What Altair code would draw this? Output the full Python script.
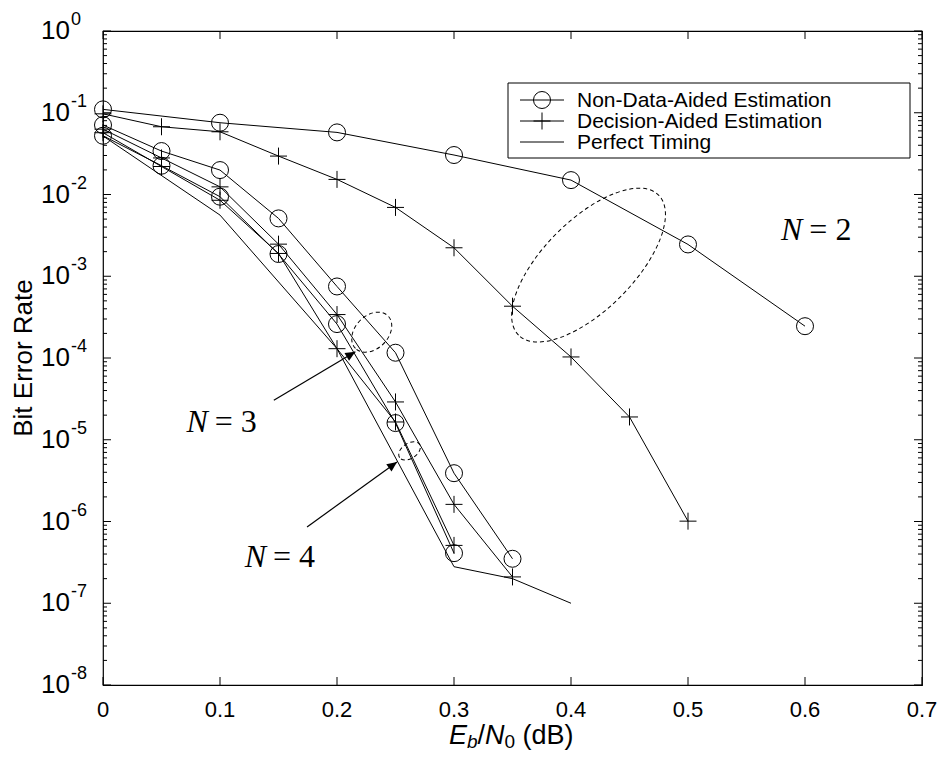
import altair as alt
import pandas as pd

W, H = 819, 654

# ---------------- data ----------------
snr_n2_nda = [0, 0.1, 0.2, 0.3, 0.4, 0.5, 0.6]
ber_n2_nda = [0.110, 0.0755, 0.0575, 0.0304, 0.0150, 0.00245, 2.45e-4]

snr_n2_da = [0, 0.05, 0.1, 0.15, 0.2, 0.25, 0.3, 0.35, 0.4, 0.45, 0.5]
ber_n2_da = [0.097, 0.0674, 0.0585, 0.0295, 0.0153, 0.00695, 0.00223, 4.3e-4, 1.03e-4, 1.9e-5, 1.01e-6]

snr_n3 = [0, 0.05, 0.1, 0.15, 0.2, 0.25, 0.3, 0.35]
ber_n3_nda = [0.0707, 0.034, 0.0199, 0.0051, 7.5e-4, 1.16e-4, 3.9e-6, 3.5e-7]
ber_n3_da = [0.063, 0.028, 0.0124, 0.00247, 3.4e-4, 2.9e-5, 1.62e-6, 2.1e-7]

snr_n4 = [0, 0.05, 0.1, 0.15, 0.2, 0.25, 0.3]
ber_n4_nda = [0.0523, 0.0225, 0.0094, 0.00187, 2.6e-4, 1.6e-5, 4.1e-7]
ber_n4_da = [0.057, 0.022, 0.0085, 0.0019, 1.3e-4, 1.65e-5, 5.1e-7]

snr_pt = [0, 0.1, 0.2, 0.3, 0.35, 0.4]
ber_pt = [0.052, 0.0056, 1.3e-4, 2.8e-7, 2.0e-7, 1.0e-7]

legend_labels = ["Non-Data-Aided Estimation", "Decision-Aided Estimation", "Perfect Timing"]

x_ticks = [0, 0.1, 0.2, 0.3, 0.4, 0.5, 0.6, 0.7]
x_tick_labels = ["0", "0.1", "0.2", "0.3", "0.4", "0.5", "0.6", "0.7"]
y_exponents = [0, -1, -2, -3, -4, -5, -6, -7, -8]

# annotations: group ellipses (centre), arrows, N labels
ell_x = [0.415, 0.2297, 0.262]
ell_y = [1.37e-3, 2.07e-4, 7.3e-6]
arrow_x0 = [0.146, 0.1744]
arrow_y0 = [3.04e-5, 8.57e-7]
arrow_x1 = [0.2157, 0.2513]
arrow_y1 = [1.19e-4, 5.35e-6]
n_labels = ["2", "3", "4"]
n_label_x = [0.6037, 0.0955, 0.1453]
n_label_y = [3.66e-3, 1.65e-5, 3.67e-7]

# ---------------- tables ----------------
rows = []
def add(series, kind, xs, ys):
    for a, b in zip(xs, ys):
        rows.append({"snr": a, "ber": b, "series": series, "kind": kind})

add("n2_nda", "nda", snr_n2_nda, ber_n2_nda)
add("n2_da", "da", snr_n2_da, ber_n2_da)
add("n3_nda", "nda", snr_n3, ber_n3_nda)
add("n3_da", "da", snr_n3, ber_n3_da)
add("n4_nda", "nda", snr_n4, ber_n4_nda)
add("n4_da", "da", snr_n4, ber_n4_da)
add("pt", "pt", snr_pt, ber_pt)
df = pd.DataFrame(rows)

xs = alt.Scale(domain=[0, 0.7], nice=False, zero=False)
ys = alt.Scale(type="log", domain=[1e-8, 1], nice=False)

X = lambda f: alt.X(f, type="quantitative", scale=xs, axis=None)
Y = lambda f: alt.Y(f, type="quantitative", scale=ys, axis=None)

PLUS = "M-1,0L1,0M0,-1L0,1"
SANS = "Liberation Sans"
SERIF = "Liberation Serif"
one = pd.DataFrame({"a": [0]})

layers = []

# curves
layers.append(alt.Chart(df).mark_line(color="black", strokeWidth=1).encode(
    x=X("snr"), y=Y("ber"), detail="series:N", order="snr:Q"))
layers.append(alt.Chart(df[df.kind == "nda"]).mark_point(
    shape="circle", size=289, filled=False, color="black", strokeWidth=1, opacity=1).encode(
    x=X("snr"), y=Y("ber")))
layers.append(alt.Chart(df[df.kind == "da"]).mark_point(
    shape=PLUS, size=289, filled=False, color="black", strokeWidth=1, opacity=1).encode(
    x=X("snr"), y=Y("ber")))

# inward ticks
ymaj = pd.DataFrame({"v": [10.0 ** e for e in y_exponents]})
ymin = pd.DataFrame({"v": [m * 10.0 ** e for e in range(-8, 0) for m in range(2, 10)]})
xt = pd.DataFrame({"v": x_ticks, "lab": x_tick_labels})
for d, ln in [(ymaj, 8), (ymin, 4)]:
    layers.append(alt.Chart(d).mark_rule(color="black", strokeWidth=1).encode(
        y=Y("v"), x=alt.value(0), x2=alt.value(ln)))
    layers.append(alt.Chart(d).mark_rule(color="black", strokeWidth=1).encode(
        y=Y("v"), x=alt.value(W - ln), x2=alt.value(W)))
layers.append(alt.Chart(xt).mark_rule(color="black", strokeWidth=1).encode(
    x=X("v"), y=alt.value(H - 8), y2=alt.value(H)))
layers.append(alt.Chart(xt).mark_rule(color="black", strokeWidth=1).encode(
    x=X("v"), y=alt.value(0), y2=alt.value(8)))

# tick labels
layers.append(alt.Chart(xt).mark_text(font=SANS, fontSize=22, baseline="middle", align="center",
                                      color="black").encode(
    x=X("v"), y=alt.value(H + 25), text="lab:N"))
ylab = pd.DataFrame({"v": [10.0 ** e for e in y_exponents], "e": [str(e) for e in y_exponents]})
layers.append(alt.Chart(ylab).mark_text(font=SANS, fontSize=26, baseline="middle", align="left",
                                        color="black", text="10").encode(
    y=Y("v"), x=alt.value(-62)))
layers.append(alt.Chart(ylab).mark_text(font=SANS, fontSize=18, baseline="middle", align="left",
                                        color="black", dy=-11).encode(
    y=Y("v"), x=alt.value(-32), text="e:N"))

# axis titles
layers.append(alt.Chart(one).mark_text(font=SANS, fontSize=26, angle=270, align="center",
                                       baseline="middle", text="Bit Error Rate", color="black").encode(
    x=alt.value(-79), y=alt.value(H / 2)))
title_parts = [("E", 346, 27, "italic", 0), ("b", 364, 19, "italic", 4), ("/", 374.6, 27, "normal", 0),
               ("N", 382.1, 27, "italic", 0), ("0", 401.6, 19, "normal", 4), ("(dB)", 419.5, 27, "normal", 0)]
for t, px, fs, st, sub in title_parts:
    layers.append(alt.Chart(one).mark_text(font=SANS, fontSize=fs, fontStyle=st, align="left",
                                           baseline="alphabetic", text=t, color="black").encode(
        x=alt.value(px), y=alt.value(H + 59 + sub)))

# group ellipses
ell_shapes = [(99, 45, 315), (23, 16.5, 315), (12, 7.6, 326)]
k = 0.5523
for i, (a, b, ang) in enumerate(ell_shapes):
    r = b / a
    path = (f"M-1,0C-1,{-k*r:.4f} {-k:.4f},{-r:.4f} 0,{-r:.4f}"
            f"C{k:.4f},{-r:.4f} 1,{-k*r:.4f} 1,0"
            f"C1,{k*r:.4f} {k:.4f},{r:.4f} 0,{r:.4f}"
            f"C{-k:.4f},{r:.4f} -1,{k*r:.4f} -1,0Z")
    d = pd.DataFrame({"x": [ell_x[i]], "y": [ell_y[i]]})
    layers.append(alt.Chart(d).mark_point(shape=path, size=4 * a * a, angle=ang, filled=False,
                                          color="black", strokeWidth=1, strokeDash=[4, 3],
                                          opacity=1).encode(x=X("x"), y=Y("y")))

# arrows
arr = pd.DataFrame({"x0": arrow_x0, "y0": arrow_y0, "x1": arrow_x1, "y1": arrow_y1})
layers.append(alt.Chart(arr).mark_rule(color="black", strokeWidth=1.2).encode(
    x=X("x0"), y=Y("y0"), x2="x1:Q", y2="y1:Q"))
for ang, i in [(329.4, 0), (324.2, 1)]:
    d = pd.DataFrame({"x": [arrow_x1[i]], "y": [arrow_y1[i]]})
    layers.append(alt.Chart(d).mark_point(shape="M0,0L-1,-0.45L-1,0.45Z", size=400, angle=ang,
                                          filled=True, color="black", opacity=1).encode(
        x=X("x"), y=Y("y")))

# N = k labels
nl = pd.DataFrame({"x": n_label_x, "y": n_label_y, "t": ["= " + s for s in n_labels]})
layers.append(alt.Chart(nl).mark_text(font=SERIF, fontSize=32, fontStyle="italic", align="right",
                                      baseline="middle", text="N", dx=-7, color="black").encode(
    x=X("x"), y=Y("y")))
layers.append(alt.Chart(nl).mark_text(font=SERIF, fontSize=32, align="left",
                                      baseline="middle", color="black").encode(
    x=X("x"), y=Y("y"), text="t:N"))

# legend
lx0, lx1, ly0, ly1 = 405, 807, 52, 127
layers.append(alt.Chart(one).mark_rect(fill="white", stroke="black", strokeWidth=1).encode(
    x=alt.value(lx0), x2=alt.value(lx1), y=alt.value(ly0), y2=alt.value(ly1)))
row_y = [69, 90, 111]
for i, lab in enumerate(legend_labels):
    yy = row_y[i]
    layers.append(alt.Chart(one).mark_rule(color="black", strokeWidth=1).encode(
        x=alt.value(417), x2=alt.value(461), y=alt.value(yy)))
    if i < 2:
        layers.append(alt.Chart(one).mark_point(shape="circle" if i == 0 else PLUS, size=289,
                                                filled=False, color="black", strokeWidth=1,
                                                opacity=1).encode(
            x=alt.value(439), y=alt.value(yy)))
    layers.append(alt.Chart(one).mark_text(font=SANS, fontSize=21, align="left", baseline="middle",
                                           text=lab, color="black").encode(
        x=alt.value(474), y=alt.value(yy + 1)))

chart = alt.layer(*layers).properties(
    width=W, height=H,
    padding={"left": 95, "top": 23, "right": 16, "bottom": 68},
    autosize=alt.AutoSizeParams(type="none"),
    background="white",
).configure_view(stroke="black", strokeWidth=1.2)

chart.save("out.html", embed_options={"renderer": "svg", "actions": False})
